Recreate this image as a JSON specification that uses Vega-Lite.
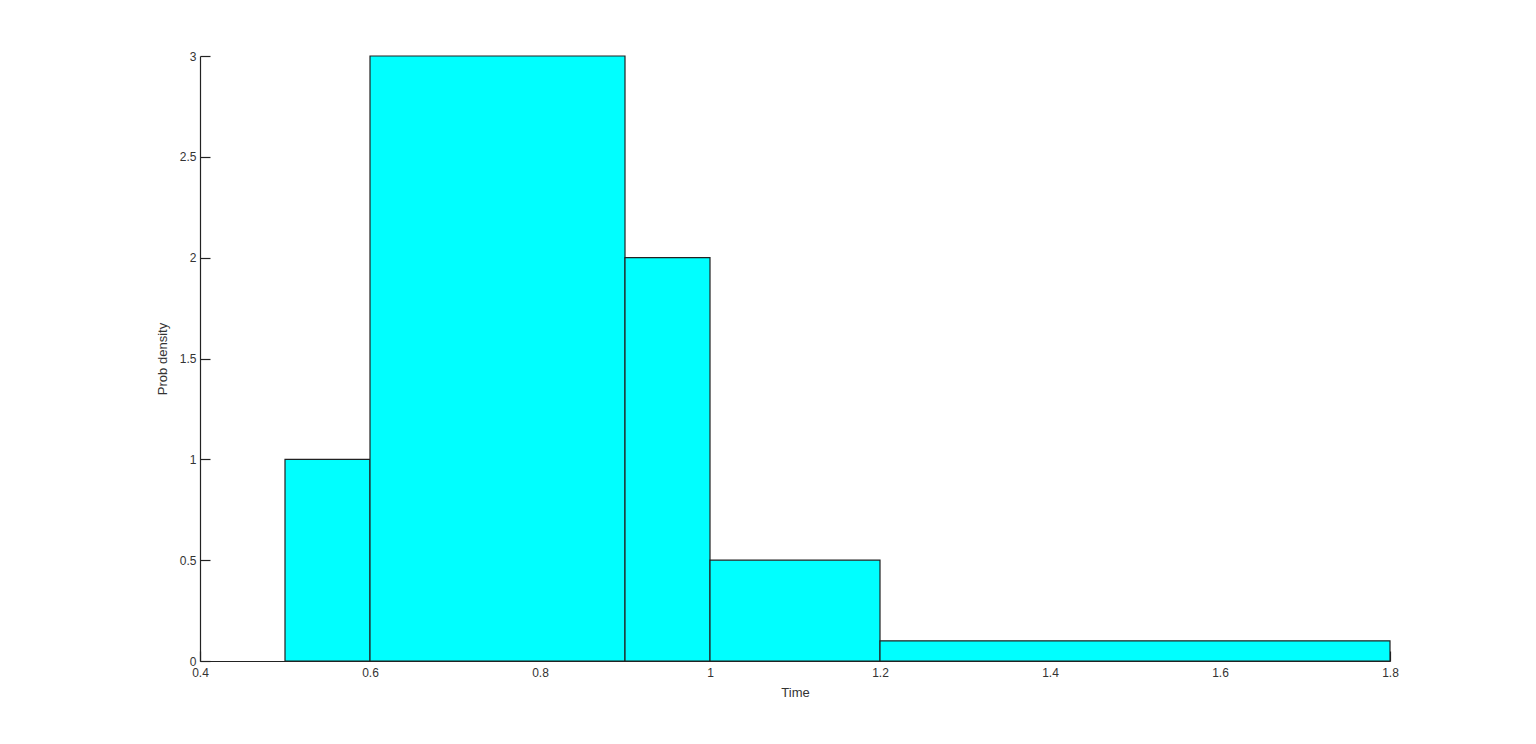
{
  "$schema": "https://vega.github.io/schema/vega-lite/v6.json",
  "autosize": "none",
  "width": 1190,
  "height": 605,
  "padding": {"left": 200, "top": 56, "right": 146, "bottom": 83},
  "background": "white",
  "config": {
    "view": {"stroke": null},
    "font": "Liberation Sans",
    "axis": {
      "grid": false,
      "domainColor": "#222222",
      "domainWidth": 1.2,
      "tickColor": "#222222",
      "tickSize": -10,
      "tickWidth": 1.2,
      "labelColor": "#333333",
      "labelFontSize": 12,
      "labelFont": "Liberation Sans",
      "titleFont": "Liberation Sans",
      "titleFontSize": 13,
      "titleFontWeight": "normal",
      "titleColor": "#333333"
    }
  },
  "data": {
    "values": [
      {"start": 0.5, "end": 0.6, "density": 1},
      {"start": 0.6, "end": 0.9, "density": 3},
      {"start": 0.9, "end": 1.0, "density": 2},
      {"start": 1.0, "end": 1.2, "density": 0.5},
      {"start": 1.2, "end": 1.8, "density": 0.1}
    ]
  },
  "mark": {"type": "rect", "fill": "#00FFFF", "stroke": "#222222", "strokeWidth": 1.2},
  "encoding": {
    "x": {
      "field": "start",
      "type": "quantitative",
      "scale": {"domain": [0.4, 1.8], "nice": false, "zero": false},
      "axis": {"title": "Time", "format": "~g", "values": [0.4, 0.6, 0.8, 1, 1.2, 1.4, 1.6, 1.8], "labelPadding": 16, "titlePadding": 8, "labelFlush": false}
    },
    "x2": {"field": "end"},
    "y": {
      "field": "density",
      "type": "quantitative",
      "scale": {"domain": [0, 3], "nice": false},
      "axis": {"title": "Prob density", "format": "~g", "values": [0, 0.5, 1, 1.5, 2, 2.5, 3], "labelPadding": 14, "titlePadding": 10}
    },
    "y2": {"datum": 0}
  }
}
